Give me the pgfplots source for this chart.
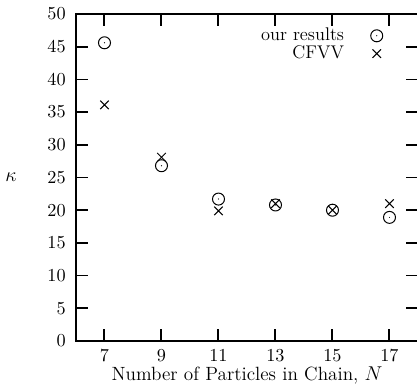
\documentclass[border=0pt]{standalone}
\usepackage{pgfplots}
\pgfplotsset{compat=1.18}
\pgfdeclareplotmark{odot}{%
  \pgfpathcircle{\pgfpoint{0pt}{0pt}}{\pgfplotmarksize}\pgfusepathqstroke
  \pgfpathcircle{\pgfpoint{0pt}{0pt}}{0.35pt}\pgfusepathqfill}
\begin{document}
\begin{tikzpicture}
\begin{axis}[
  name=ax,
  scale only axis,
  width=205.2pt, height=196.2pt,
  xmin=6, xmax=18, ymin=0, ymax=50,
  xtick={7,9,11,13,15,17},
  ytick={0,5,...,50},
  tick align=inside,
  major tick length=7.2pt,
  axis line style={line width=0.8pt},
  xtick style={line width=1.1pt, black},
  ytick style={line width=1pt, black},
  xtick pos=both, ytick pos=both,
  xmajorgrids=true,
  major x grid style={line width=1.2pt, black, solid, dash pattern=on 7.2pt off 181.8pt on 7.2pt off 0pt},
  ticklabel style={font=\fontsize{10.5}{12}\selectfont},
  xticklabel style={anchor=base, yshift=-12.6pt},
  yticklabel style={anchor=east, inner sep=0pt, xshift=-6pt},
  xlabel={Number of Particles in Chain, $N$},
  ylabel={$\kappa$},
  label style={font=\fontsize{11.5}{13}\selectfont},
  xlabel style={at={(axis description cs:0.5,0)}, anchor=base, yshift=-24pt},
  ylabel style={at={(axis description cs:-0.19,0.5)}, rotate=-90, anchor=center},
  legend plot pos=right,
  legend cell align=right,
  legend style={draw=none, fill=none, font=\fontsize{11}{13}\selectfont,
    at={(axis cs:16.95,48.9)}, anchor=north east, row sep=-2.5pt, column sep=14pt},
  clip=false,
]
\addplot[only marks, mark=odot, mark size=3.6pt, line width=0.6pt] coordinates {
  (7,45.6) (9,26.8) (11,21.7) (13,20.8) (15,20.0) (17,18.9)
};
\addlegendentry{our results}
\addplot[only marks, mark=x, mark size=3.6pt, line width=0.6pt] coordinates {
  (7,36.1) (9,28.1) (11,19.9) (13,21.0) (15,20.0) (17,21.0)
};
\addlegendentry{CFVV}
\pgfplotsinvokeforeach{7,9,11,13,15,17}{
  \draw[line width=1.1pt] (axis cs:#1,0) -- ++(0pt,7.2pt);
  \draw[line width=1.1pt] (axis cs:#1,50) -- ++(0pt,-7.2pt);
}
\end{axis}
\pgfresetboundingbox
\path ([xshift=-45.6pt,yshift=-30.6pt]ax.south west) rectangle ([xshift=204.6pt,yshift=204.6pt]ax.south west);
\end{tikzpicture}
\end{document}
